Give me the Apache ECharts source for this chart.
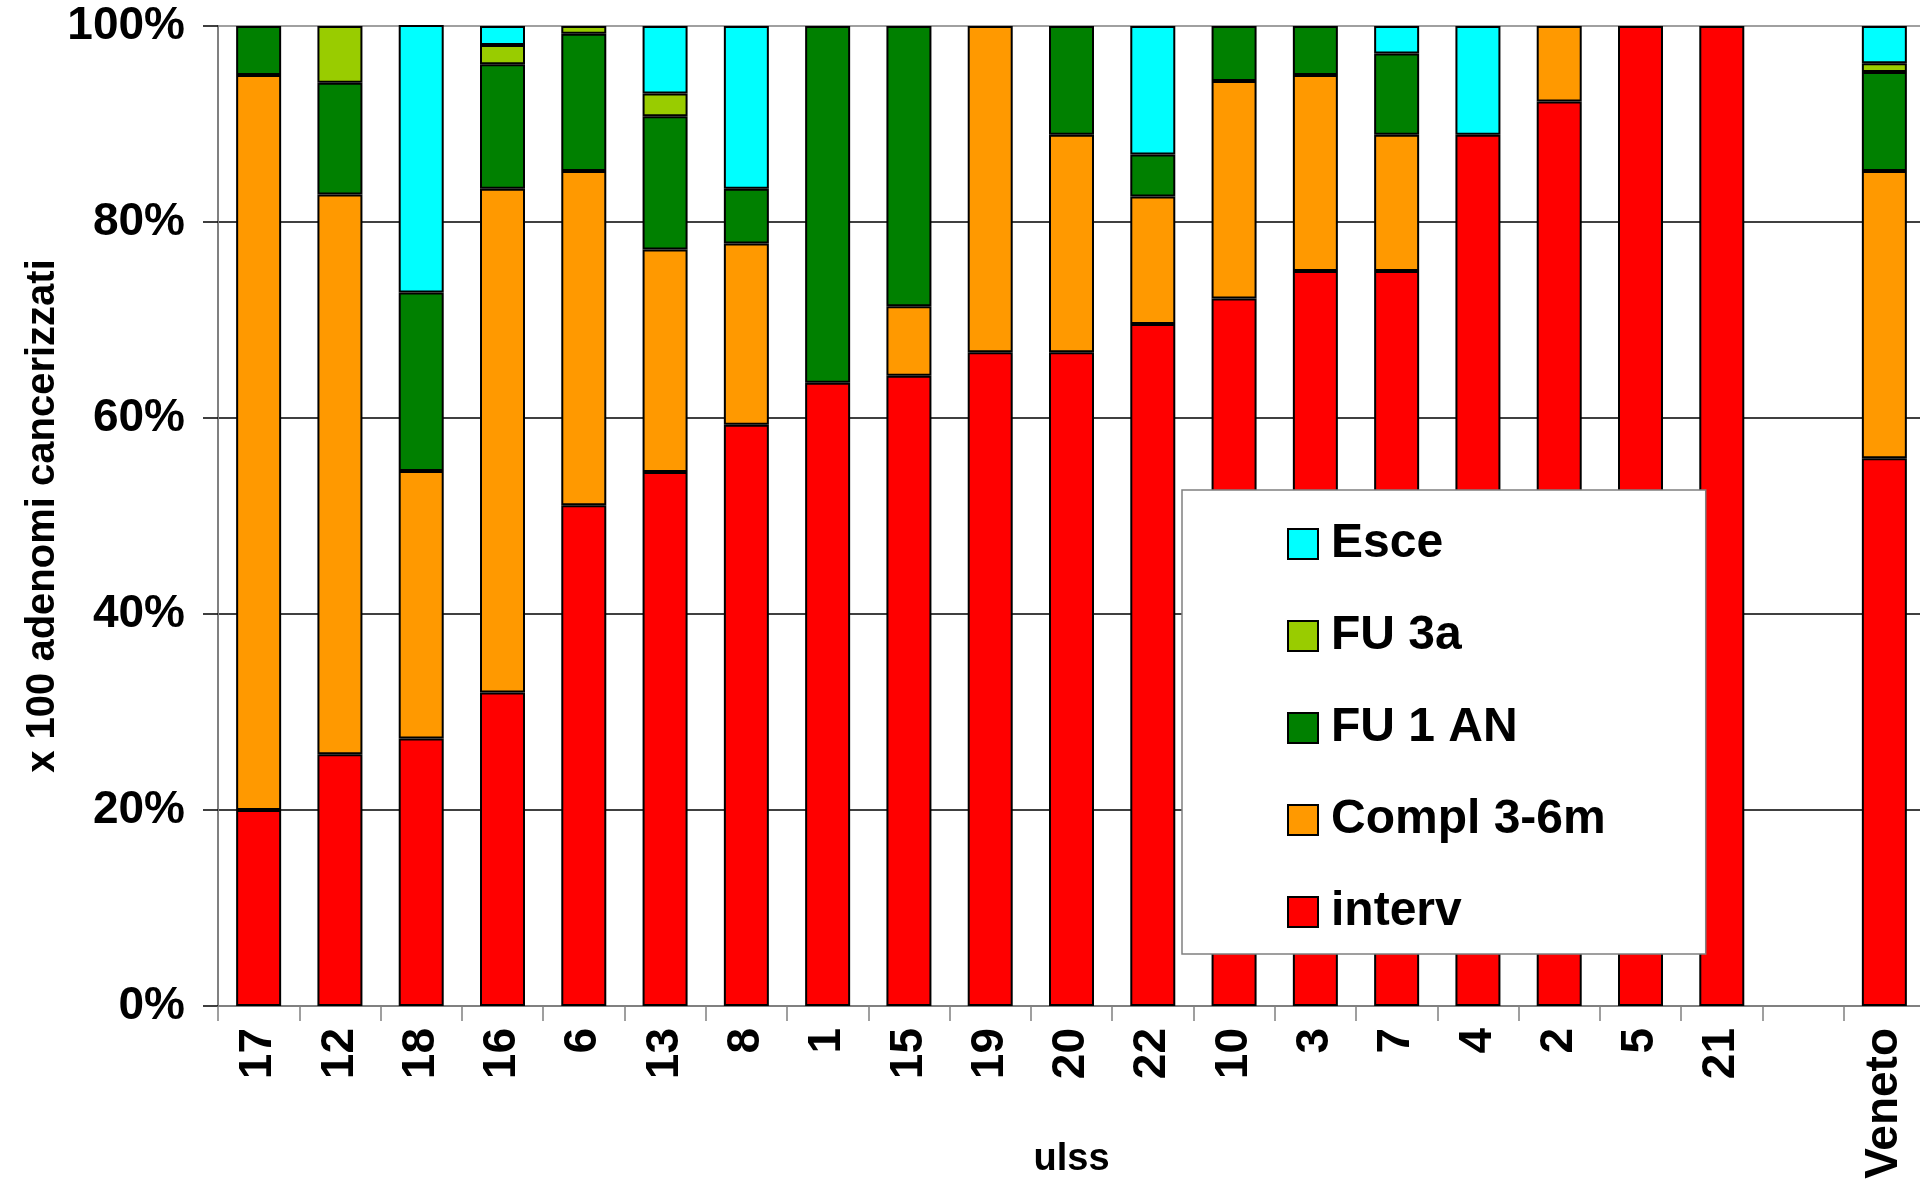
<!DOCTYPE html>
<html>
<head>
<meta charset="utf-8">
<script src="https://cdn.jsdelivr.net/npm/echarts@6/dist/echarts.min.js"></script>
<style>
html,body{margin:0;padding:0;background:#fff;}
#chart{width:1920px;height:1184px;}
</style>
</head>
<body>
<div id="chart"></div>
<script>
var categories = ['17','12','18','16','6','13','8','1','15','19','20','22','10','3','7','4','2','5','21','','Veneto'];
var interv   = [20, 25.7, 27.3, 32.0, 51.1, 54.5, 59.3, 63.6, 64.3, 66.7, 66.7, 69.6, 72.2, 75, 75, 88.9, 92.3, 100, 100, null, 55.9];
var compl    = [75, 57.1, 27.3, 51.4, 34.1, 22.7, 18.5, null, 7.1, 33.3, 22.2, 13.0, 22.2, 20, 13.9, null, 7.7, null, null, null, 29.3];
var fu1an    = [5, 11.4, 18.2, 12.7, 14.0, 13.6, 5.6, 36.4, 28.6, null, 11.1, 4.3, 5.6, 5, 8.3, null, null, null, null, null, 10.1];
var fu3a     = [null, 5.8, null, 1.95, 0.8, 2.3, null, null, null, null, null, null, null, null, null, null, null, null, null, null, 0.9];
var esce     = [null, null, 27.3, 1.95, null, 6.9, 16.6, null, null, null, null, 13.1, null, null, 2.8, 11.1, null, null, null, null, 3.8];
var yTicks   = [0, 20, 40, 60, 80, 100];

var FONT = '"Liberation Sans", Arial, sans-serif';
function barSeries(name, data, color) {
  return {
    name: name, type: 'bar', stack: 'total', data: data, barWidth: 45,
    itemStyle: { color: color, borderColor: '#000', borderWidth: 2 },
    emphasis: { disabled: true }
  };
}
var chart = echarts.init(document.getElementById('chart'), null, { renderer: 'canvas' });
chart.setOption({
  animation: false,
  backgroundColor: '#fff',
  textStyle: { fontFamily: FONT },
  grid: { left: 218, top: 26, width: 1707, height: 980, containLabel: false, outerBoundsMode: 'none' },
  legend: {
    orient: 'vertical', left: 1182, top: 490,
    padding: [30, 100, 18, 105],
    icon: 'rect',
    backgroundColor: '#fff', borderColor: '#808080', borderWidth: 1.5,
    itemWidth: 30, itemHeight: 30, itemGap: 44,
    textStyle: { fontFamily: FONT, fontSize: 48, fontWeight: 'bold', color: '#000', lineHeight: 46, padding: [0, 0, 0, 8] },
    data: ['Esce', 'FU 3a', 'FU 1 AN', 'Compl 3-6m', 'interv']
  },
  xAxis: {
    type: 'category', data: categories,
    name: 'ulss', nameLocation: 'middle', nameGap: 135, nameMoveOverlap: false,
    nameTextStyle: { fontFamily: FONT, fontSize: 38, fontWeight: 'bold', color: '#000' },
    axisLine: { lineStyle: { color: '#808080', width: 2 } },
    axisTick: { show: true, interval: 0, length: 15, lineStyle: { color: '#808080', width: 1.5 } },
    axisLabel: { interval: 0, rotate: 90, margin: 22, fontFamily: FONT, fontSize: 46, fontWeight: 'bold', color: '#000' }
  },
  yAxis: {
    type: 'value', min: yTicks[0], max: yTicks[yTicks.length - 1], interval: 20,
    name: 'x 100 adenomi cancerizzati', nameLocation: 'middle', nameGap: 155, nameRotate: 90, nameMoveOverlap: false,
    nameTextStyle: { fontFamily: FONT, fontSize: 40, fontWeight: 'bold', color: '#000' },
    axisLine: { show: true, lineStyle: { color: '#808080', width: 2 } },
    axisTick: { show: true, length: 15, lineStyle: { color: '#000', width: 1.5 } },
    axisLabel: { margin: 33, formatter: '{value}%', fontFamily: FONT, fontSize: 46, fontWeight: 'bold', color: '#000' },
    splitLine: { show: true, lineStyle: { color: ['#808080', '#000', '#000', '#000', '#000', '#808080'], width: 1.5 } }
  },
  series: [
    barSeries('interv', interv, '#FF0000'),
    barSeries('Compl 3-6m', compl, '#FF9900'),
    barSeries('FU 1 AN', fu1an, '#008000'),
    barSeries('FU 3a', fu3a, '#99CC00'),
    barSeries('Esce', esce, '#00FFFF')
  ]
});
</script>
</body>
</html>
